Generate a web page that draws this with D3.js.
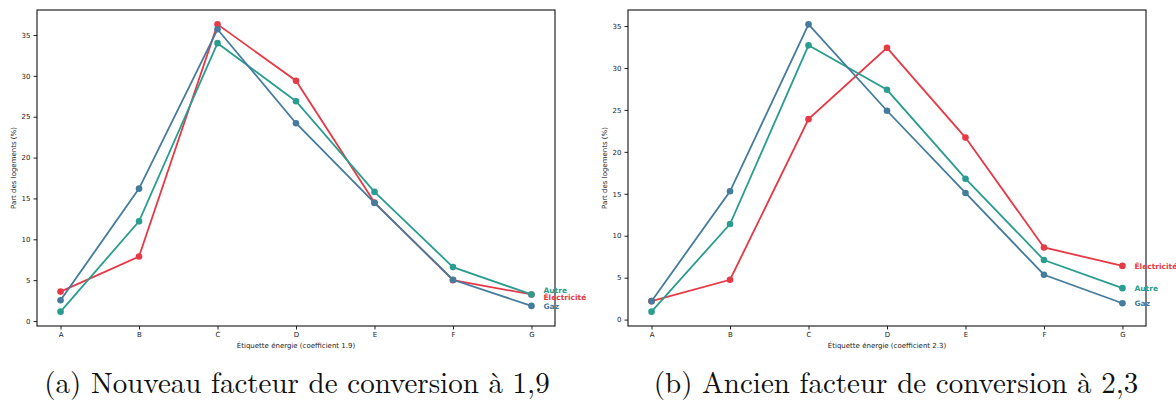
<!DOCTYPE html>
<html>
<head>
<meta charset="utf-8">
<script src="https://cdn.jsdelivr.net/npm/d3@7"></script>
<style>
  body { margin: 0; background: #fff; }
  svg { display: block; }
  .axis text { font-family: "DejaVu Sans", sans-serif; font-size: 7px; fill: #222; }
  .axis path, .axis line { stroke: #222; }
  .axis-label { font-family: "DejaVu Sans", sans-serif; font-size: 7px; fill: #222; }
  .end-label { font-family: "DejaVu Sans", sans-serif; font-size: 7.5px; font-weight: bold; }
  .caption { font-family: "Latin Modern Roman", "CMU Serif", "DejaVu Serif", serif; font-size: 29px; fill: #111; }
</style>
</head>
<body>
<div id="chart"></div>
<script>
var categories = ["A", "B", "C", "D", "E", "F", "G"];
var seriesNames = ["Électricité", "Autre", "Gaz"];
var seriesColors = ["#e63946", "#2a9d8f", "#457b9d"];

// panel (a): coefficient 1.9
var elecNew  = [3.6, 7.9, 36.3, 29.4, 14.5, 5.0, 3.25];
var autreNew = [1.15, 12.2, 34.0, 26.9, 15.8, 6.6, 3.25];
var gazNew   = [2.55, 16.2, 35.7, 24.2, 14.45, 5.05, 1.85];
var endLabelNew = [2.9, 3.8, 1.85];

// panel (b): coefficient 2.3
var elecOld  = [2.2, 4.75, 23.9, 32.4, 21.7, 8.6, 6.4];
var autreOld = [0.95, 11.4, 32.7, 27.4, 16.8, 7.1, 3.75];
var gazOld   = [2.2, 15.3, 35.2, 24.9, 15.1, 5.35, 1.95];
var endLabelOld = [6.4, 3.75, 1.95];

var yTicks = [0, 5, 10, 15, 20, 25, 30, 35];

var W = 1176, H = 401;
var svg = d3.select("#chart").append("svg").attr("width", W).attr("height", H);

function panel(opts) {
    var left = opts.left, right = opts.right, top = 10, bottom = 326;
    var all = [].concat.apply([], opts.series);
    var lo = d3.min(all), hi = d3.max(all), pad = (hi - lo) * 0.05;

    var x = d3.scaleLinear().domain([-0.3, categories.length - 1 + 0.3]).range([left, right]);
    var y = d3.scaleLinear().domain([lo - pad, hi + pad]).range([bottom, top]);

    var g = svg.append("g");

    g.append("g")
        .attr("class", "axis")
        .attr("transform", "translate(0," + bottom + ")")
        .call(d3.axisBottom(x)
            .tickValues(d3.range(categories.length))
            .tickFormat(function(i) { return categories[i]; })
            .tickSizeOuter(0).tickSizeInner(3.5).tickPadding(3));

    g.append("g")
        .attr("class", "axis")
        .attr("transform", "translate(" + left + ",0)")
        .call(d3.axisLeft(y).tickValues(yTicks).tickSizeOuter(0).tickSizeInner(3.5).tickPadding(3));

    g.selectAll(".axis path.domain").remove();

    g.append("rect")
        .attr("x", left).attr("y", top)
        .attr("width", right - left).attr("height", bottom - top)
        .attr("fill", "none").attr("stroke", "#111").attr("stroke-width", 1.1);

    var line = d3.line().x(function(d, i) { return x(i); }).y(function(d) { return y(d); });

    opts.series.forEach(function(vals, s) {
        g.append("path")
            .attr("d", line(vals))
            .attr("fill", "none")
            .attr("stroke", seriesColors[s])
            .attr("stroke-width", 1.8);
        g.selectAll(null).data(vals).enter().append("circle")
            .attr("cx", function(d, i) { return x(i); })
            .attr("cy", function(d) { return y(d); })
            .attr("r", 3.3)
            .attr("fill", seriesColors[s]);
        g.append("text")
            .attr("class", "end-label")
            .attr("x", x(categories.length - 1) + 12)
            .attr("y", y(opts.endLabels[s]))
            .attr("dy", "0.35em")
            .attr("fill", seriesColors[s])
            .text(seriesNames[s]);
    });

    g.append("text")
        .attr("class", "axis-label")
        .attr("transform", "translate(" + (left - 21) + "," + ((top + bottom) / 2) + ") rotate(-90)")
        .attr("text-anchor", "middle")
        .text("Part des logements (%)");

    g.append("text")
        .attr("class", "axis-label")
        .attr("x", (left + right) / 2)
        .attr("y", 348)
        .attr("text-anchor", "middle")
        .text(opts.xLabel);

    g.append("text")
        .attr("class", "caption")
        .attr("x", opts.captionX)
        .attr("y", 393)
        .attr("text-anchor", "middle")
        .text(opts.caption);
}

panel({
    left: 37, right: 555,
    series: [elecNew, autreNew, gazNew],
    endLabels: endLabelNew,
    xLabel: "Étiquette énergie (coefficient 1.9)",
    caption: "(a) Nouveau facteur de conversion à 1,9",
    captionX: 297
});

panel({
    left: 628, right: 1146,
    series: [elecOld, autreOld, gazOld],
    endLabels: endLabelOld,
    xLabel: "Étiquette énergie (coefficient 2.3)",
    caption: "(b) Ancien facteur de conversion à 2,3",
    captionX: 896
});
</script>
</body>
</html>
